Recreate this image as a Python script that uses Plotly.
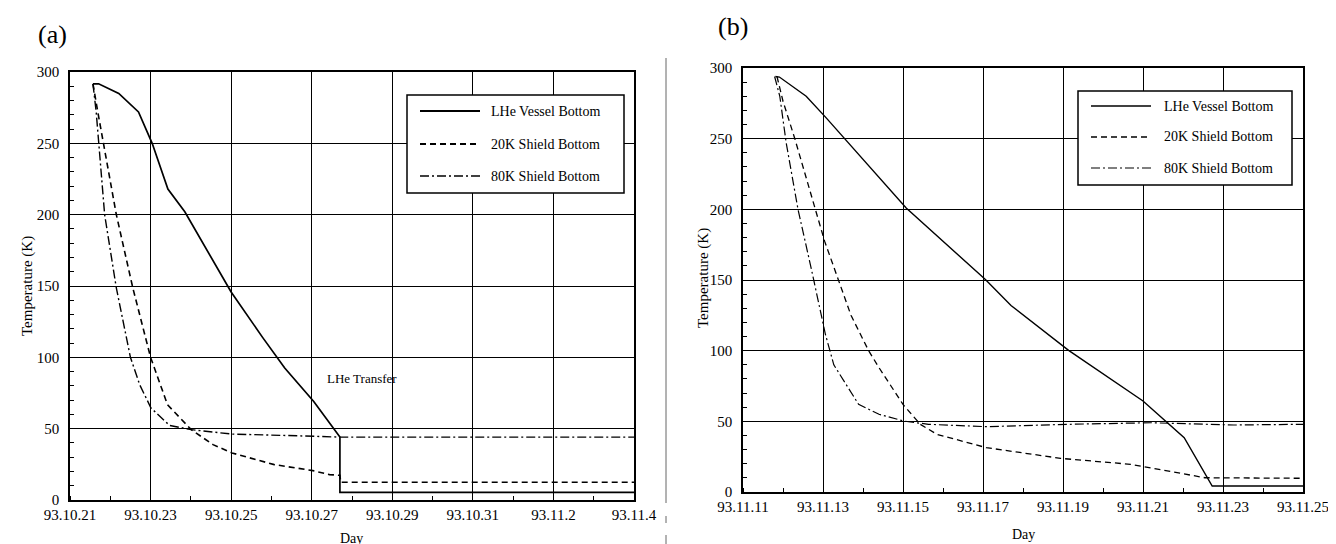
import plotly.graph_objects as go

# ---------------- data ----------------
# (a) days counted from 93.10.21
a_lhe_day = [0.57, 0.71, 1.21, 1.70, 2.04, 2.43, 2.85, 4.0, 4.78, 5.33, 6.05, 6.70, 6.70, 14.0]
a_lhe_T = [291.7, 291.7, 285, 272, 250, 218, 202, 145.8, 114, 92.5, 69, 44.1, 5.4, 5.4]
a_20k_day = [0.57, 0.69, 1.15, 1.56, 2.0, 2.42, 3.01, 3.55, 4.02, 5.07, 6.03, 6.44, 6.70, 6.72, 14.0]
a_20k_T = [291.7, 272, 200, 148.6, 100, 66.8, 49.3, 38.8, 33, 24.8, 20.6, 17.8, 17.3, 12.4, 12.4]
a_80k_day = [0.57, 0.65, 0.86, 1.15, 1.50, 1.73, 2.01, 2.47, 3.01, 4.02, 5.26, 6.70, 14.0]
a_80k_T = [291.7, 272, 200, 148.6, 100, 80.8, 64.5, 52.3, 49.3, 46.2, 45.3, 44.1, 44.1]
a_tick_days = [0, 2, 4, 6, 8, 10, 12, 14]
a_tick_text = ["93.10.21", "93.10.23", "93.10.25", "93.10.27", "93.10.29", "93.10.31", "93.11.2", "93.11.4"]

# (b) days counted from 93.11.11
b_lhe_day = [0.81, 0.91, 1.58, 2.08, 4.08, 6.06, 6.70, 7.38, 8.14, 10.0, 10.62, 11.03, 11.73, 14.0]
b_lhe_T = [294, 293.6, 280, 264.7, 201, 150.3, 132, 117, 100.2, 64.4, 49, 38.4, 4.2, 4.2]
b_20k_day = [0.85, 1.0, 1.29, 1.71, 2.04, 2.70, 3.14, 3.40, 4.0, 4.43, 4.85, 6.08, 7.94, 9.69, 10.62, 11.55, 14.0]
b_20k_T = [294, 276.5, 250.5, 210.4, 177.5, 125, 100, 88, 62, 47.9, 40.8, 31.4, 23.8, 19.6, 14.9, 10.1, 9.7]
b_80k_day = [0.79, 0.92, 1.08, 1.375, 1.71, 1.95, 2.06, 2.27, 2.89, 3.40, 4.02, 4.64, 6.08, 8.14, 10.2, 12.27, 14.0]
b_80k_T = [294, 280, 247, 200, 157.6, 125, 111.6, 90, 62, 55, 50.2, 47.9, 46.2, 47.9, 49, 47.4, 47.9]
b_tick_days = [0, 2, 4, 6, 8, 10, 12, 14]
b_tick_text = ["93.11.11", "93.11.13", "93.11.15", "93.11.17", "93.11.19", "93.11.21", "93.11.23", "93.11.25"]

series_names = ["LHe Vessel Bottom", "20K Shield Bottom", "80K Shield Bottom"]

# ---------------- styles ----------------
SERIF = "Liberation Serif, Times New Roman, serif"
DASH = "6px,4px"
DASHDOT = "9px,3px,2px,3px"
W = 1336
H = 544

def px(x):
    return x / W

def py(y):
    return 1 - y / H

fig = go.Figure()

dashes = ["solid", DASH, DASHDOT]
a_widths = [1.7, 1.6, 1.4]
b_widths = [1.4, 1.3, 1.2]

a_data = [(a_lhe_day, a_lhe_T), (a_20k_day, a_20k_T), (a_80k_day, a_80k_T)]
for i, (xd, yd) in enumerate(a_data):
    fig.add_trace(go.Scatter(
        x=xd, y=yd, mode="lines", name=series_names[i], showlegend=False,
        line=dict(color="black", width=a_widths[i], dash=dashes[i]),
        xaxis="x", yaxis="y",
    ))

b_data = [(b_lhe_day, b_lhe_T), (b_20k_day, b_20k_T), (b_80k_day, b_80k_T)]
for i, (xd, yd) in enumerate(b_data):
    fig.add_trace(go.Scatter(
        x=xd, y=yd, mode="lines", name=series_names[i], showlegend=False,
        line=dict(color="black", width=b_widths[i], dash=dashes[i]),
        xaxis="x2", yaxis="y2",
    ))

tickfont = dict(family=SERIF, size=15, color="black")

def xaxis_cfg(domain, anchor, tv, tt):
    return dict(
        domain=domain, anchor=anchor, range=[0, 14], automargin=False,
        tickmode="array", tickvals=tv, ticktext=tt,
        showgrid=True, gridcolor="black", gridwidth=1,
        showline=True, linecolor="black", linewidth=1.6, mirror=True,
        ticks="", tickfont=tickfont, ticklabelstandoff=0,
        minor=dict(tickmode="linear", tick0=0, dtick=1, ticks="inside",
                   ticklen=4, tickcolor="black", showgrid=False),
        zeroline=False, fixedrange=True,
    )

def yaxis_cfg(domain, anchor):
    return dict(
        domain=domain, anchor=anchor, range=[0, 300], automargin=False,
        tickmode="linear", tick0=0, dtick=50,
        showgrid=True, gridcolor="black", gridwidth=1,
        showline=True, linecolor="black", linewidth=1.6, mirror=True,
        ticks="", tickfont=tickfont, ticklabelstandoff=6,
        minor=dict(tickmode="linear", tick0=0, dtick=10, ticks="inside",
                   ticklen=4, tickcolor="black", showgrid=False),
        zeroline=False, fixedrange=True,
    )

fig.update_layout(
    width=W, height=H,
    margin=dict(l=0, r=0, t=0, b=0, autoexpand=False),
    paper_bgcolor="white", plot_bgcolor="white",
    showlegend=False,
    xaxis=xaxis_cfg([px(62), px(626)], "y", a_tick_days, a_tick_text),
    yaxis=yaxis_cfg([py(492), py(64)], "x"),
    xaxis2=xaxis_cfg([px(735), px(1295)], "y2", b_tick_days, b_tick_text),
    yaxis2=yaxis_cfg([py(484), py(60)], "x2"),
)

def ann(text, x, y, size, angle=0, xanchor="center"):
    return dict(text=text, x=px(x), y=py(y), xref="paper", yref="paper",
                showarrow=False, textangle=angle, xanchor=xanchor, yanchor="middle",
                borderpad=0,
                font=dict(family=SERIF, size=size, color="black"))

annotations = [
    ann("(a)", 44, 26, 26),
    ann("(b)", 725, 19, 26),
    ann("Temperature (K)", 19, 278, 15, -90),
    ann("Temperature (K)", 695, 270, 15, -90),
    ann("Day", 344, 530, 14),
    ann("Day", 1015, 526, 14),
    dict(text="LHe Transfer", x=7.25, y=85.5, xref="x", yref="y",
         showarrow=False, xanchor="center", yanchor="middle",
         font=dict(family=SERIF, size=13, color="black")),
]

shapes = []
# legend boxes (drawn by hand to match the long line samples of the original)
legend_boxes = [
    # (box x0, x1, y0, y1, sample x0, x1, text x, row ys, widths)
    (399, 616, 87, 185, 412, 472, 482, [103, 136, 168], [2.0, 1.9, 1.6]),
    (1070, 1284, 83, 177, 1083, 1143, 1155, [98, 129, 160], [1.4, 1.3, 1.2]),
]
for bx0, bx1, by0, by1, sx0, sx1, tx, rows, ws in legend_boxes:
    shapes.append(dict(type="rect", xref="paper", yref="paper",
                       x0=px(bx0), x1=px(bx1), y0=py(by1), y1=py(by0),
                       fillcolor="white", line=dict(color="black", width=1.5),
                       layer="above"))
    for i, ry in enumerate(rows):
        shapes.append(dict(type="line", xref="paper", yref="paper",
                           x0=px(sx0), x1=px(sx1), y0=py(ry), y1=py(ry),
                           line=dict(color="black", width=ws[i], dash=dashes[i]),
                           layer="above"))
        annotations.append(ann(series_names[i], tx, ry, 14, xanchor="left"))

# thin separator line to the right of panel (a)
for y0, y1 in [(50, 495), (508, 515), (527, 544)]:
    shapes.append(dict(type="line", xref="paper", yref="paper",
                       x0=px(658), x1=px(658), y0=py(y0), y1=py(y1),
                       line=dict(color="#666666", width=1)))

fig.update_layout(annotations=annotations, shapes=shapes)

fig.write_html("out.html")
